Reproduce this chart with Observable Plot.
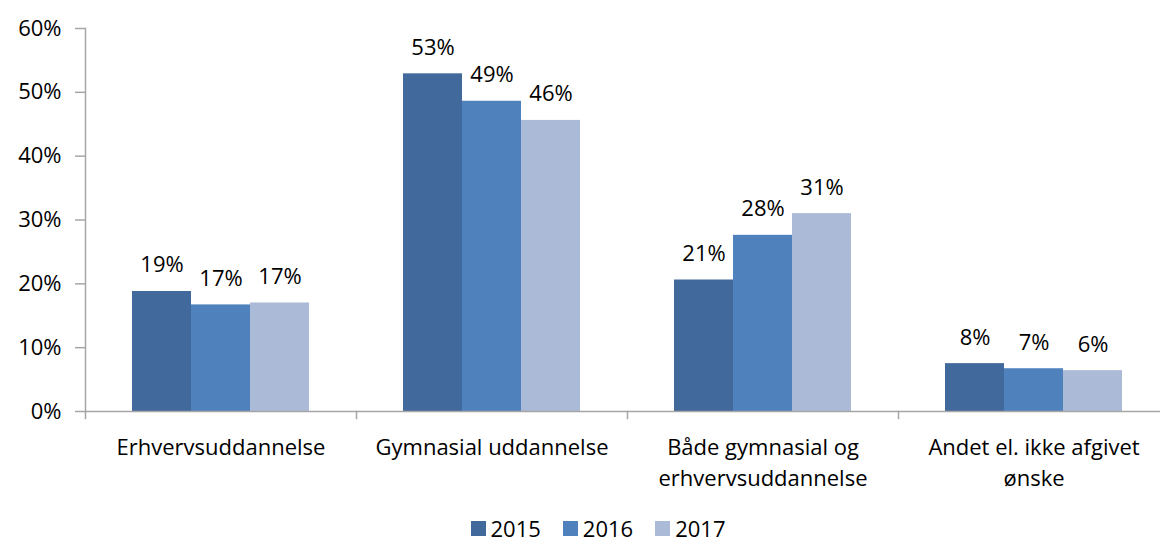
<!DOCTYPE html>
<html>
<head>
<meta charset="utf-8">
<script src="https://cdn.jsdelivr.net/npm/d3@7"></script>
<script src="https://cdn.jsdelivr.net/npm/@observablehq/plot@0.6"></script>
<style>
  html, body { margin: 0; padding: 0; background: #fff; overflow: hidden; }
  #chart { width: 1160px; }
  .legend { display: flex; justify-content: center; align-items: center; padding-left: 36px;
    height: 30px; padding-top: 13px; font-family: "Open Sans", sans-serif; font-size: 22px; line-height: 30px; color: #000; }
  .legend .item { display: flex; align-items: center; margin: 0 11px; }
  .legend .sw { width: 15px; height: 15px; margin-right: 5px; }
</style>
</head>
<body>
<div id="chart"></div>
<script>
const categories = [
  "Erhvervsuddannelse",
  "Gymnasial uddannelse",
  "Både gymnasial og\nerhvervsuddannelse",
  "Andet el. ikke afgivet\nønske"
];
const years = ["2015", "2016", "2017"];
const values2015 = [18.8, 52.9, 20.6, 7.5];
const values2016 = [16.7, 48.6, 27.6, 6.7];
const values2017 = [17.0, 45.6, 31.0, 6.4];
const colors = ["#41699B", "#4F81BD", "#AABAD7"];
const yTicks = [0, 10, 20, 30, 40, 50, 60];

const series = [values2015, values2016, values2017];
const data = [];
categories.forEach((c, i) => years.forEach((y, j) => data.push({category: c, year: y, value: series[j][i]})));

const H = 500, mTop = 28, mBottom = H - 418;
const gray = "#A6A6A6";

const plot = Plot.plot({
  width: 1160,
  height: H,
  marginLeft: 83,
  marginRight: -10,
  marginTop: mTop,
  marginBottom: mBottom,
  style: {fontFamily: "Open Sans, sans-serif", fontSize: "22px", color: "#000", background: "#fff"},
  fx: {domain: categories, padding: 0, axis: null},
  x: {domain: years, paddingInner: 0, paddingOuter: 0.767, axis: null},
  y: {domain: [0, 60], insetBottom: 7, axis: null},
  color: {domain: years, range: colors},
  marks: [
    Plot.barY(data, {fx: "category", x: "year", y: "value", fill: "year"}),
    Plot.ruleY([0], {stroke: gray, strokeWidth: 1.5}),
    Plot.frame({anchor: "left", stroke: gray, strokeWidth: 1.5, insetTop: 418 - mTop - 7}),
    Plot.frame({anchor: "left", stroke: gray, strokeWidth: 1.5, insetBottom: 7, facetAnchor: "left"}),
    Plot.axisY({ticks: yTicks, tickSize: 10, tickPadding: 14, tickFormat: d => d + "%", stroke: gray, strokeWidth: 1.5, fill: "#000", label: null}),
    Plot.text(data, {fx: "category", x: "year", y: "value", text: d => Math.round(d.value) + "%", lineAnchor: "bottom", dy: -19, fill: "#000"}),
    Plot.axisFx({anchor: "bottom", tickSize: 0, tickPadding: 15, lineHeight: 1.4, label: null, fill: "#000"})
  ]
});
document.getElementById("chart").appendChild(plot);

const legend = document.createElement("div");
legend.className = "legend";
years.forEach((y, j) => {
  const it = document.createElement("div");
  it.className = "item";
  const sw = document.createElement("span");
  sw.className = "sw";
  sw.style.background = colors[j];
  const t = document.createElement("span");
  t.textContent = y;
  it.appendChild(sw); it.appendChild(t);
  legend.appendChild(it);
});
document.getElementById("chart").appendChild(legend);
</script>
</body>
</html>
